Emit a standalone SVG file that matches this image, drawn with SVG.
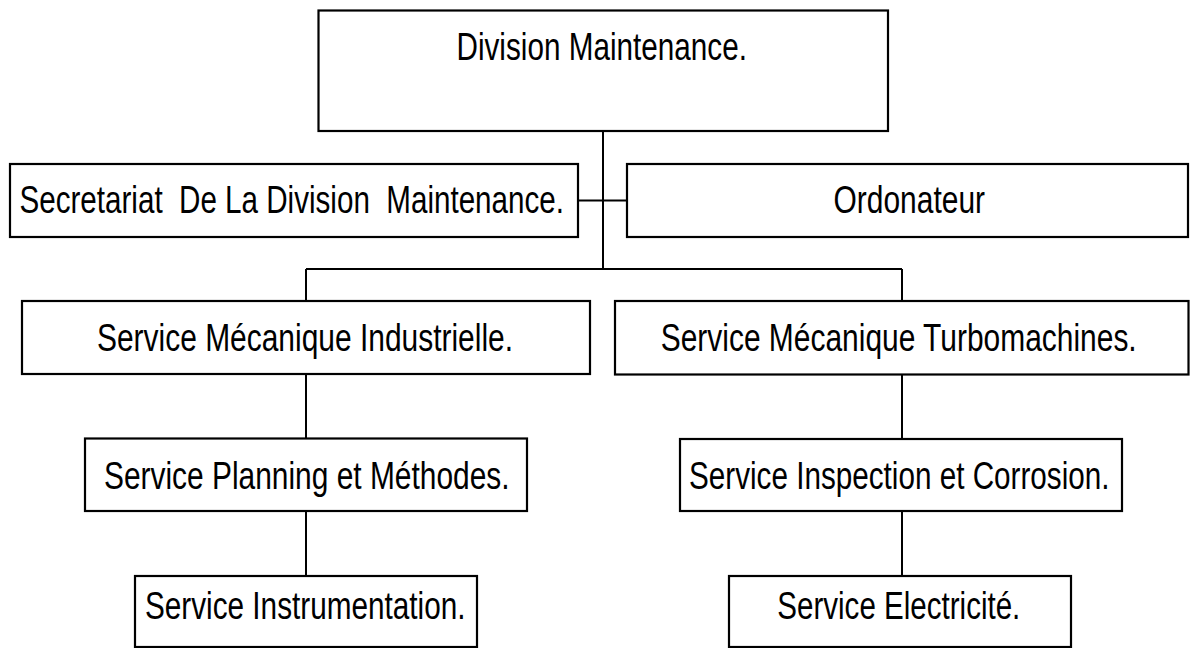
<svg xmlns="http://www.w3.org/2000/svg" width="1190" height="648" viewBox="0 0 1190 648">
  <style>
    .box { fill: #ffffff; stroke: #000000; stroke-width: 2.2; }
    .link { fill: none; stroke: #000000; stroke-width: 2; }
    .label { font-family: "Liberation Sans", Arial, sans-serif; font-size: 38px; fill: #000000; white-space: pre; }
  </style>
  <rect width="1190" height="648" fill="#ffffff"/>

  <!-- connectors -->
  <g id="connectors">
    <path class="link" d="M603 131 V269"/>
    <path class="link" d="M578 200.5 H627"/>
    <path class="link" d="M306 269 H902"/>
    <path class="link" d="M306 269 V301"/>
    <path class="link" d="M902 269 V301"/>
    <path class="link" d="M306 374 V438.5"/>
    <path class="link" d="M306 511 V576"/>
    <path class="link" d="M902 374.5 V439"/>
    <path class="link" d="M902 511 V576"/>
  </g>

  <!-- labels are set in a condensed face: horizontal scale 0.8, lengths given in unscaled units -->

  <!-- head of division -->
  <g id="division">
    <rect class="box" x="318.5" y="10.5" width="569.5" height="120.5"/>
    <text class="label" transform="translate(456.5 60) scale(0.8 1)" textLength="363" lengthAdjust="spacingAndGlyphs">Division Maintenance.</text>
  </g>

  <!-- staff positions -->
  <g id="secretariat">
    <rect class="box" x="10" y="164" width="568" height="73"/>
    <text class="label" transform="translate(19.5 213.3) scale(0.8 1)" textLength="680.6" lengthAdjust="spacingAndGlyphs">Secretariat  De La Division  Maintenance.</text>
  </g>
  <g id="ordonateur">
    <rect class="box" x="627" y="164" width="561" height="73"/>
    <text class="label" transform="translate(833.5 213.3) scale(0.8 1)" textLength="189.4" lengthAdjust="spacingAndGlyphs">Ordonateur</text>
  </g>

  <!-- services -->
  <g id="mecanique-industrielle">
    <rect class="box" x="22" y="301" width="568" height="73"/>
    <text class="label" transform="translate(97 350.7) scale(0.8 1)" textLength="520" lengthAdjust="spacingAndGlyphs">Service Mécanique Industrielle.</text>
  </g>
  <g id="mecanique-turbomachines">
    <rect class="box" x="615" y="301" width="573.5" height="73.5"/>
    <text class="label" transform="translate(660.7 350.7) scale(0.8 1)" textLength="595" lengthAdjust="spacingAndGlyphs">Service Mécanique Turbomachines.</text>
  </g>
  <g id="planning-methodes">
    <rect class="box" x="85" y="438.5" width="442" height="72.5"/>
    <text class="label" transform="translate(104 489.3) scale(0.8 1)" textLength="506.9" lengthAdjust="spacingAndGlyphs">Service Planning et Méthodes.</text>
  </g>
  <g id="inspection-corrosion">
    <rect class="box" x="680" y="439" width="442" height="72"/>
    <text class="label" transform="translate(689 489.3) scale(0.8 1)" textLength="525.6" lengthAdjust="spacingAndGlyphs">Service Inspection et Corrosion.</text>
  </g>
  <g id="instrumentation">
    <rect class="box" x="135" y="576" width="342" height="71"/>
    <text class="label" transform="translate(145 619.3) scale(0.8 1)" textLength="400.6" lengthAdjust="spacingAndGlyphs">Service Instrumentation.</text>
  </g>
  <g id="electricite">
    <rect class="box" x="729" y="576" width="342" height="71"/>
    <text class="label" transform="translate(777.3 619.3) scale(0.8 1)" textLength="303.8" lengthAdjust="spacingAndGlyphs">Service Electricité.</text>
  </g>
</svg>
